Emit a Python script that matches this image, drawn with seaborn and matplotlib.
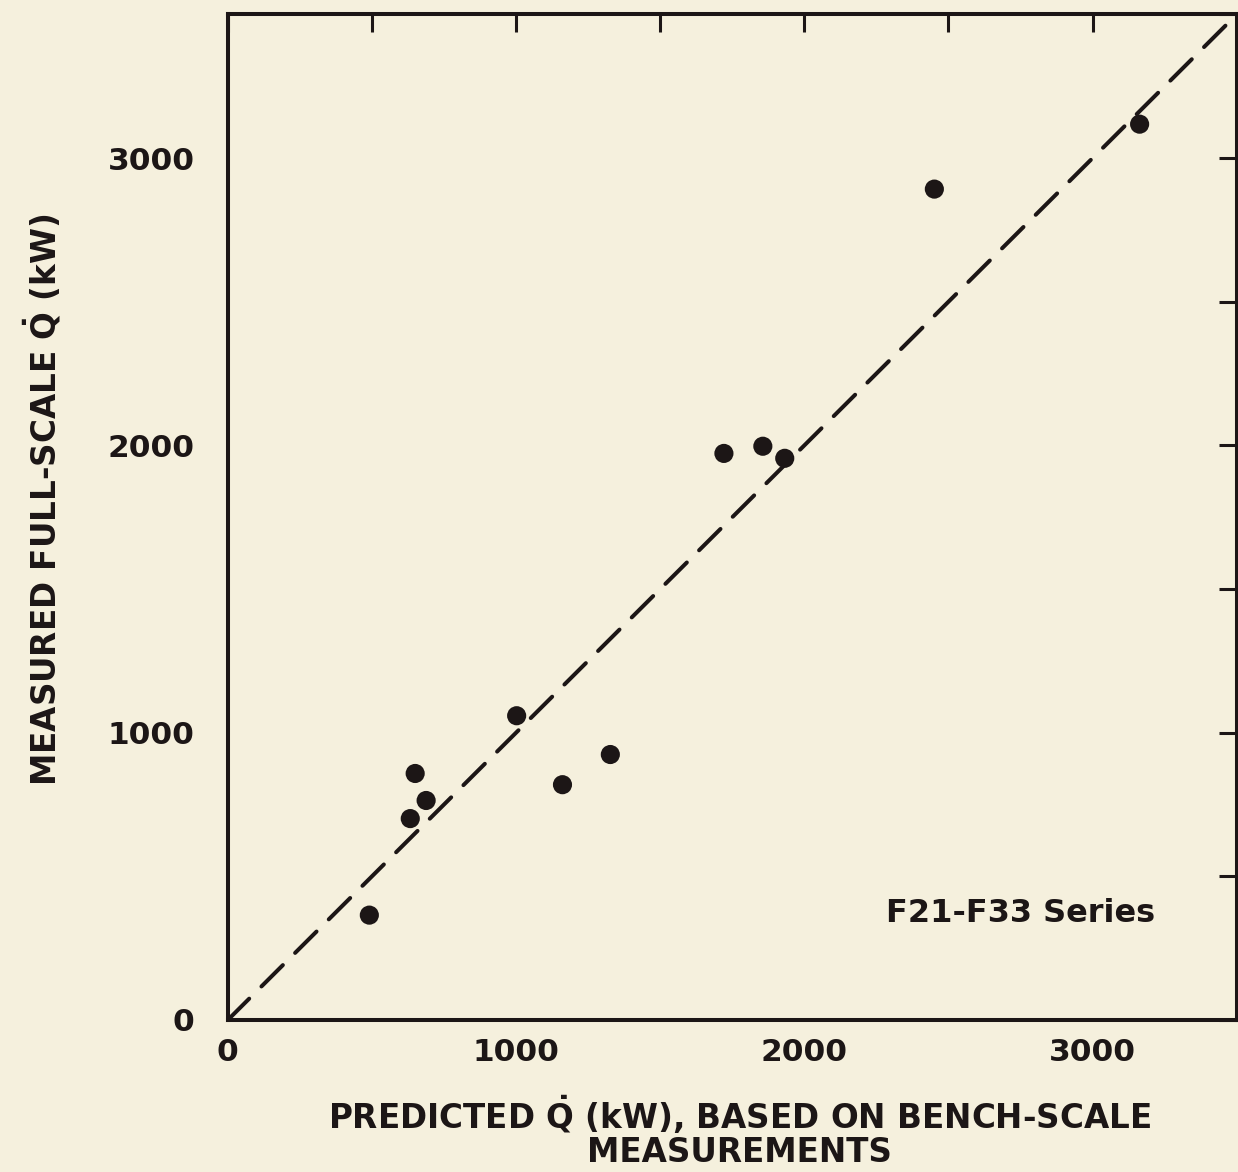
import matplotlib
matplotlib.use('Agg')
import matplotlib.pyplot as plt
import numpy as np
import seaborn as sns

# predicted (bench-scale) vs measured full-scale heat release rate, kW
predicted_kw = [491, 633, 650, 688, 1002, 1161, 1327, 1721, 1856, 1932, 2451, 3163]
measured_kw = [365, 701, 858, 764, 1059, 819, 924, 1972, 1997, 1955, 2892, 3118]
parity_kw = [0, 3500]
tick_values = np.arange(0, 3501, 500)
tick_labels = ['0', '', '1000', '', '2000', '', '3000', '']

BG = '#f5f0dd'
INK = '#1c1616'
QDOT = r'$\mathbf{\dot{Q}}$'

sns.set_style('white')
plt.rcParams['font.family'] = ['DejaVu Sans']
plt.rcParams['font.weight'] = 'bold'
plt.rcParams['mathtext.fontset'] = 'dejavusans'

fig = plt.figure(figsize=(12.38, 11.72), dpi=100, facecolor=BG)
ax = fig.add_axes([0.184, 0.1297, 0.815, 0.858])
ax.set_facecolor(BG)

sns.lineplot(x=parity_kw, y=parity_kw, ax=ax, color=INK, lw=2.9,
             linestyle=(0, (7.5, 4.3)), dash_capstyle='round')
sns.scatterplot(x=predicted_kw, y=measured_kw, ax=ax, color=INK, s=190,
                edgecolor='none', zorder=3)

ax.set_xlim(0, 3500)
ax.set_ylim(0, 3500)
ax.set_xticks(tick_values)
ax.set_yticks(tick_values)
ax.set_xticklabels(tick_labels)
ax.set_yticklabels(tick_labels)
ax.tick_params(direction='in', length=13, width=2.2, color=INK,
               top=True, right=True, labelsize=22.5, labelcolor=INK)
ax.tick_params(axis='x', pad=13)
ax.tick_params(axis='y', pad=24)
for lbl in ax.get_xticklabels() + ax.get_yticklabels():
    lbl.set_fontweight('bold')
for sp in ax.spines.values():
    sp.set_linewidth(2.9)
    sp.set_color(INK)

ax.text(2750, 370, 'F21-F33 Series', fontsize=23, fontweight='bold',
        color=INK, ha='center', va='center')

ax.set_xlabel('PREDICTED ' + QDOT + ' (kW), BASED ON BENCH-SCALE\nMEASUREMENTS',
              fontsize=23.5, fontweight='bold', color=INK, linespacing=1.0)
ax.set_ylabel('MEASURED FULL-SCALE ' + QDOT + ' (kW)', fontsize=23.5,
              fontweight='bold', color=INK)
ax.xaxis.set_label_coords(0.507, -0.073)
ax.xaxis.label.set_va('top')
ax.yaxis.set_label_coords(-0.163, 0.517)

fig.savefig('out.png', dpi=100, facecolor=BG)
